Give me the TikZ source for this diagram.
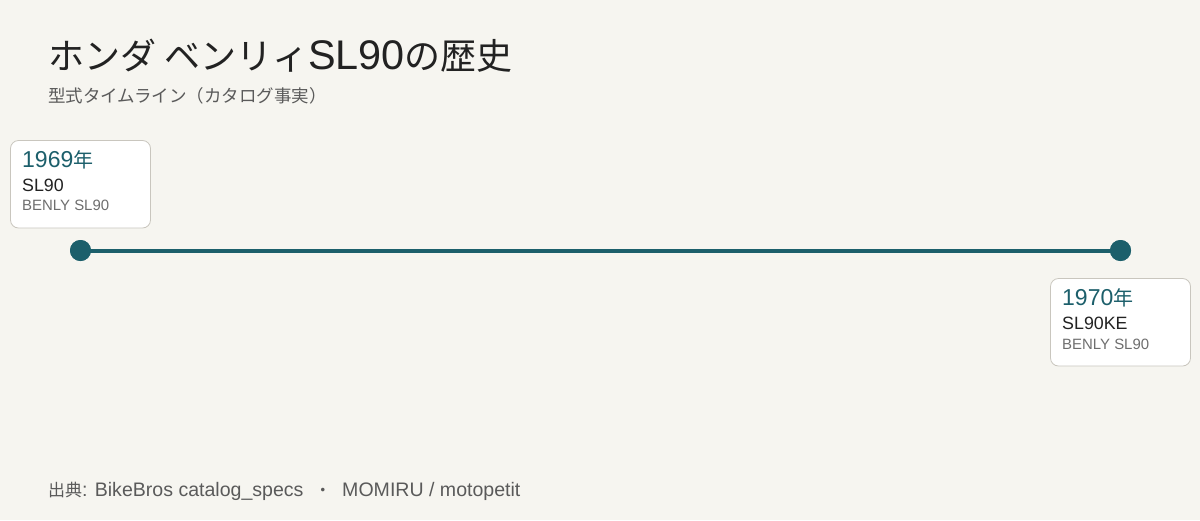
\documentclass[tikz,border=0pt]{standalone}
\usepackage{fontspec}
\setmainfont{Liberation Sans}[Scale=1.15]
\newfontfamily\jp{Noto Sans CJK JP}
\definecolor{bg}{HTML}{F6F5F0}
\definecolor{teal}{HTML}{1C5F6B}
\definecolor{ink}{HTML}{222222}
\definecolor{sub}{HTML}{5A5A5A}
\definecolor{muted}{HTML}{6E6E6E}
\definecolor{edge}{HTML}{C9C6BE}
\tikzset{
  card/.style={draw=edge, fill=white, rounded corners=8pt, line width=0.8pt},
  yeartxt/.style={anchor=base west, inner sep=0pt, text=teal, font=\fontsize{20}{24}\selectfont},
  modeltxt/.style={anchor=base west, inner sep=0pt, text=ink, font=\fontsize{15.5}{19}\selectfont},
  nametxt/.style={anchor=base west, inner sep=0pt, text=muted, font=\fontsize{13}{16}\selectfont},
  dot/.style={circle, fill=teal, minimum size=21pt, inner sep=0pt},
  tline/.style={draw=teal, line width=4pt},
}
\begin{document}
\begin{tikzpicture}[x=1pt,y=-1pt]
\fill[bg] (0,0) rectangle (1200,520);
\useasboundingbox (0,0) rectangle (1200,520);
\node[anchor=base west, inner sep=0pt, text=ink, font=\fontsize{36}{40}\selectfont] (title) at (48,69) {{\jp ホンダ ベンリィ}SL90{\jp の歴史}};
\node[anchor=base west, inner sep=0pt, text=sub, font=\fontsize{17.5}{20}\selectfont] (subtitle) at (48,102) {\jp 型式タイムライン（カタログ事実）};
\node[dot] (d1) at (80.5,250.5) {};
\node[dot] (d2) at (1120.5,250.5) {};
\draw[tline] (d1.center) -- (d2.center);
\node[dot] at (80.5,250.5) {};
\node[dot] at (1120.5,250.5) {};
\draw[card] (10.5,140.5) rectangle (150.5,228);
\node[yeartxt] (y1) at (22,167) {1969{\jp 年}};
\node[modeltxt] (m1) at (22,191) {SL90};
\node[nametxt] (n1) at (22,210) {BENLY SL90};
\draw[card] (1050.5,278.5) rectangle (1190.5,366);
\node[yeartxt] (y2) at (1062,305) {1970{\jp 年}};
\node[modeltxt] (m2) at (1062,329) {SL90KE};
\node[nametxt] (n2) at (1062,349) {BENLY SL90};
\node[anchor=base west, inner sep=0pt, text=sub, font=\fontsize{17}{20}\selectfont] (src) at (48,496) {{\jp 出典}: BikeBros catalog\_specs \ {\jp ・} \ MOMIRU / motopetit};
\end{tikzpicture}
\end{document}
